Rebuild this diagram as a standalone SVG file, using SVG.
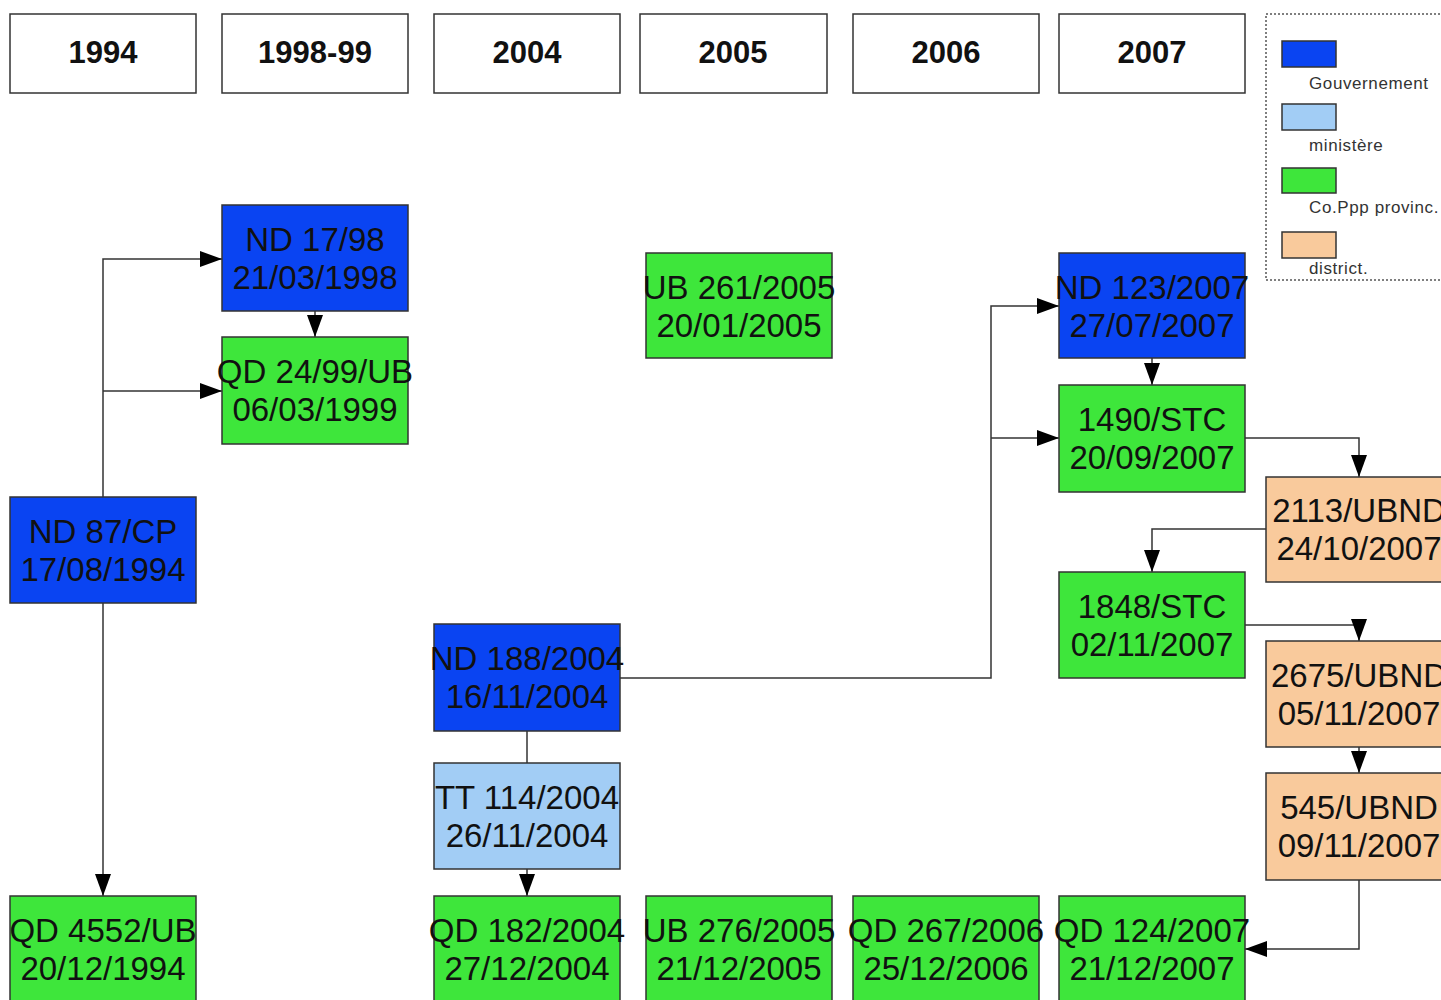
<svg xmlns="http://www.w3.org/2000/svg" width="1441" height="1000" viewBox="0 0 1441 1000">
<style>
.hdr rect{fill:#fff;stroke:#333;stroke-width:1.5}
.hdr text{font-family:"Liberation Sans",Arial,sans-serif;font-weight:bold;font-size:31px;fill:#111;text-anchor:middle}
.node rect{stroke:#333;stroke-width:1.5}
.node text{font-family:"Liberation Sans",Arial,sans-serif;font-size:33px;fill:#111;text-anchor:middle}
.gov{fill:#0a44f2}
.min{fill:#a2cdf5}
.pro{fill:#3ee63b}
.dis{fill:#f9ca9c}
.conn path{fill:none;stroke:#333;stroke-width:1.5}
.leg text{font-family:"Liberation Sans",Arial,sans-serif;font-size:17px;fill:#333;letter-spacing:0.6px}
.leg rect.sw{stroke:#333;stroke-width:1.5}
</style>
<defs>
<marker id="ah" markerUnits="userSpaceOnUse" markerWidth="22" markerHeight="16" viewBox="0 0 22 16" refX="22" refY="8" orient="auto">
<path d="M0,0 L22,8 L0,16 z" fill="#000"/>
</marker>
</defs>
<rect width="1441" height="1000" fill="#fff"/>

<g id="headers" class="hdr">
<g id="h1994"><rect x="10" y="14" width="186" height="79"/><text x="103" y="63">1994</text></g>
<g id="h1998"><rect x="222" y="14" width="186" height="79"/><text x="315" y="63">1998-99</text></g>
<g id="h2004"><rect x="434" y="14" width="186" height="79"/><text x="527" y="63">2004</text></g>
<g id="h2005"><rect x="640" y="14" width="187" height="79"/><text x="733" y="63">2005</text></g>
<g id="h2006"><rect x="853" y="14" width="186" height="79"/><text x="946" y="63">2006</text></g>
<g id="h2007"><rect x="1059" y="14" width="186" height="79"/><text x="1152" y="63">2007</text></g>
</g>

<g id="legend" class="leg">
<rect x="1266" y="14" width="190" height="266" fill="none" stroke="#555" stroke-width="1.5" stroke-dasharray="2,2"/>
<rect class="sw gov" x="1282" y="41" width="54" height="26"/>
<text x="1309" y="89">Gouvernement</text>
<rect class="sw min" x="1282" y="104" width="54" height="26"/>
<text x="1309" y="151">ministère</text>
<rect class="sw pro" x="1282" y="168" width="54" height="25"/>
<text x="1309" y="213">Co.Ppp provinc.</text>
<rect class="sw dis" x="1282" y="232" width="54" height="26"/>
<text x="1309" y="274">district.</text>
</g>

<g id="connectors" class="conn">
<path d="M103,497 V259 H222" marker-end="url(#ah)"/>
<path d="M103,391 H222" marker-end="url(#ah)"/>
<path d="M103,603 V896" marker-end="url(#ah)"/>
<path d="M315,311 V337" marker-end="url(#ah)"/>
<path d="M620,678 H991 V306 H1059" marker-end="url(#ah)"/>
<path d="M991,438 H1059" marker-end="url(#ah)"/>
<path d="M527,731 V763"/>
<path d="M527,869 V896" marker-end="url(#ah)"/>
<path d="M1152,358 V385" marker-end="url(#ah)"/>
<path d="M1245,438 H1359 V477" marker-end="url(#ah)"/>
<path d="M1266,529 H1152 V572" marker-end="url(#ah)"/>
<path d="M1245,625 H1359 V641" marker-end="url(#ah)"/>
<path d="M1359,747 V773" marker-end="url(#ah)"/>
<path d="M1359,880 V949 H1245" marker-end="url(#ah)"/>
</g>

<g id="n-nd1798" class="node"><rect class="gov" x="222" y="205" width="186" height="106"/><text x="315" y="251">ND 17/98</text><text x="315" y="289">21/03/1998</text></g>
<g id="n-qd2499" class="node"><rect class="pro" x="222" y="337" width="186" height="107"/><text x="315" y="383">QD 24/99/UB</text><text x="315" y="421">06/03/1999</text></g>
<g id="n-nd87" class="node"><rect class="gov" x="10" y="497" width="186" height="106"/><text x="103" y="543">ND 87/CP</text><text x="103" y="581">17/08/1994</text></g>
<g id="n-qd4552" class="node"><rect class="pro" x="10" y="896" width="186" height="110"/><text x="103" y="942">QD 4552/UB</text><text x="103" y="980">20/12/1994</text></g>
<g id="n-ub261" class="node"><rect class="pro" x="646" y="253" width="186" height="105"/><text x="739" y="299">UB 261/2005</text><text x="739" y="337">20/01/2005</text></g>
<g id="n-nd188" class="node"><rect class="gov" x="434" y="624" width="186" height="107"/><text x="527" y="670">ND 188/2004</text><text x="527" y="708">16/11/2004</text></g>
<g id="n-tt114" class="node"><rect class="min" x="434" y="763" width="186" height="106"/><text x="527" y="809">TT 114/2004</text><text x="527" y="847">26/11/2004</text></g>
<g id="n-qd182" class="node"><rect class="pro" x="434" y="896" width="186" height="110"/><text x="527" y="942">QD 182/2004</text><text x="527" y="980">27/12/2004</text></g>
<g id="n-ub276" class="node"><rect class="pro" x="646" y="896" width="186" height="110"/><text x="739" y="942">UB 276/2005</text><text x="739" y="980">21/12/2005</text></g>
<g id="n-qd267" class="node"><rect class="pro" x="853" y="896" width="186" height="110"/><text x="946" y="942">QD 267/2006</text><text x="946" y="980">25/12/2006</text></g>
<g id="n-qd124" class="node"><rect class="pro" x="1059" y="896" width="186" height="110"/><text x="1152" y="942">QD 124/2007</text><text x="1152" y="980">21/12/2007</text></g>
<g id="n-nd123" class="node"><rect class="gov" x="1059" y="253" width="186" height="105"/><text x="1152" y="299">ND 123/2007</text><text x="1152" y="337">27/07/2007</text></g>
<g id="n-1490" class="node"><rect class="pro" x="1059" y="385" width="186" height="107"/><text x="1152" y="431">1490/STC</text><text x="1152" y="469">20/09/2007</text></g>
<g id="n-2113" class="node"><rect class="dis" x="1266" y="477" width="186" height="105"/><text x="1359" y="522">2113/UBND</text><text x="1359" y="560">24/10/2007</text></g>
<g id="n-1848" class="node"><rect class="pro" x="1059" y="572" width="186" height="106"/><text x="1152" y="618">1848/STC</text><text x="1152" y="656">02/11/2007</text></g>
<g id="n-2675" class="node"><rect class="dis" x="1266" y="641" width="186" height="106"/><text x="1359" y="687">2675/UBND</text><text x="1359" y="725">05/11/2007</text></g>
<g id="n-545" class="node"><rect class="dis" x="1266" y="773" width="186" height="107"/><text x="1359" y="819">545/UBND</text><text x="1359" y="857">09/11/2007</text></g>
</svg>
